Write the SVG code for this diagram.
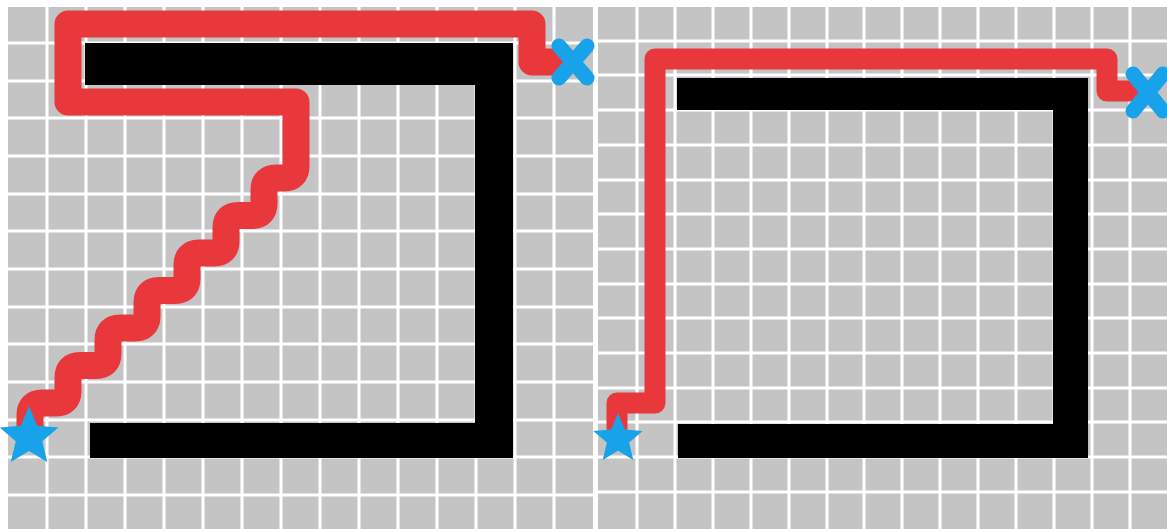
<svg xmlns="http://www.w3.org/2000/svg" width="1167" height="529" viewBox="0 0 1167 529">
<style>
.bg{fill:#c4c4c4}
.grid{stroke:#ffffff;stroke-width:3;fill:none}
.wall{fill:#000000}
.route{fill:none;stroke:#e8383b;stroke-linejoin:round;stroke-linecap:round}
.mark{fill:#18a2ea}
.cross{stroke:#18a2ea;stroke-width:15;stroke-linecap:round;fill:none}
</style>
<defs>
<polygon id="star" points="0,-1 0.265,-0.364 0.951,-0.309 0.428,0.139 0.588,0.809 0,0.45 -0.588,0.809 -0.428,0.139 -0.951,-0.309 -0.265,-0.364"/>
</defs>
<rect width="1167" height="529" fill="#ffffff"/>
<g id="left-panel">
<rect class="bg" x="8" y="7" width="585" height="522"/>
<path class="grid" d="M47,7V529M86,7V529M125,7V529M164,7V529M203,7V529M242,7V529M281,7V529M320,7V529M359,7V529M398,7V529M437,7V529M476,7V529M515,7V529M554,7V529
M8,43H593M8,81H593M8,118H593M8,156H593M8,194H593M8,231H593M8,269H593M8,307H593M8,344H593M8,382H593M8,420H593M8,457H593M8,495H593"/>
<g id="left-walls">
<rect class="wall" x="85" y="43" width="428" height="42"/>
<rect class="wall" x="475" y="43" width="38" height="415"/>
<rect class="wall" x="90" y="423" width="423" height="35"/>
</g>
</g>
<g id="right-panel">
<rect class="bg" x="598" y="7" width="569" height="522"/>
<path class="grid" d="M637,7V529M675,7V529M713,7V529M751,7V529M789,7V529M827,7V529M864,7V529M902,7V529M940,7V529M978,7V529M1016,7V529M1054,7V529M1092,7V529M1130,7V529
M598,41H1167M598,75H1167M598,110H1167M598,145H1167M598,180H1167M598,214H1167M598,249H1167M598,284H1167M598,318H1167M598,353H1167M598,388H1167M598,422H1167M598,457H1167M598,492H1167"/>
<g id="right-walls">
<rect class="wall" x="677" y="78" width="411" height="32"/>
<rect class="wall" x="1053" y="78" width="35" height="378"/>
<rect class="wall" x="678" y="424" width="410" height="34"/>
</g>
</g>
<g id="connectors">
<path id="left-route" class="route" stroke-width="27" d="M30,428 V415 Q30,403 42,403 H56 Q68,403 68,391 V377.5 Q68,365.5 80,365.5 H96 Q108,365.5 108,353.5 V340 Q108,328 120,328 H135 Q147,328 147,316 V302.5 Q147,290.5 159,290.5 H175 Q187,290.5 187,278.5 V265 Q187,253 199,253 H214 Q226,253 226,241 V227.5 Q226,215.5 238,215.5 H252 Q264,215.5 264,203.5 V190 Q264,178 276,178 H284 Q296,178 296,166 V102 H68 V24 H532 V62 H558"/>
<path id="right-route" class="route" stroke-width="21" d="M617,428 V403 H655 V59 H1107 V91 H1132"/>
</g>
<g id="left-start"><use href="#star" class="mark" transform="translate(29,437) scale(31)"/></g>
<g id="left-goal"><path class="cross" d="M559,46L587,78M559,78L587,46"/></g>
<g id="right-start"><use href="#star" class="mark" transform="translate(618,439) scale(26)"/></g>
<g id="right-goal"><path class="cross" d="M1133,74L1163,111M1133,111L1163,74"/></g>
</svg>
